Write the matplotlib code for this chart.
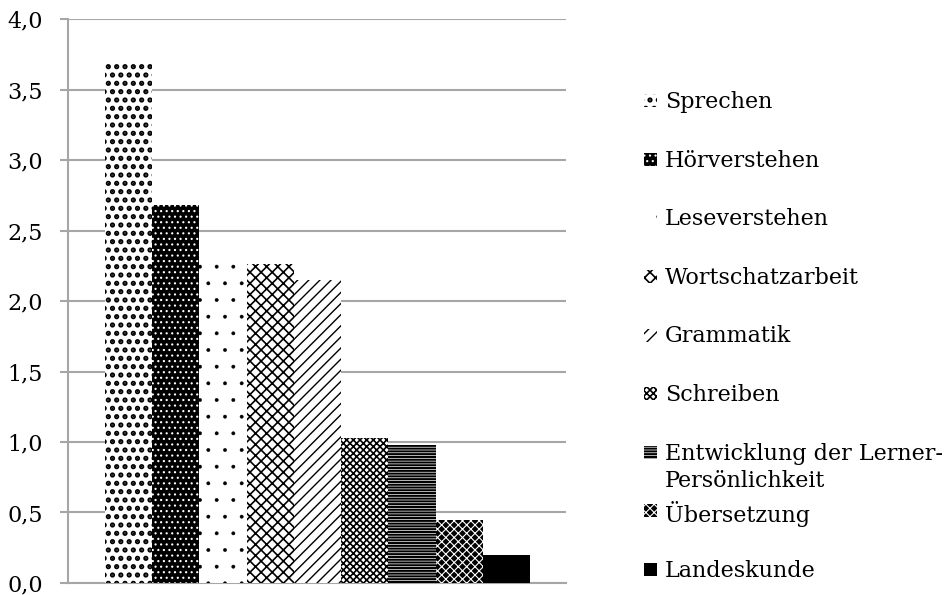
import matplotlib
matplotlib.use('Agg')
import matplotlib.pyplot as plt
from matplotlib.patches import Rectangle
from matplotlib.ticker import FuncFormatter
import numpy as np

# Daten
categories = ['Sprechen', 'Hörverstehen', 'Leseverstehen', 'Wortschatzarbeit',
              'Grammatik', 'Schreiben', 'Entwicklung der Lerner-\nPersönlichkeit',
              'Übersetzung', 'Landeskunde']
values = [3.70, 2.68, 2.26, 2.26, 2.15, 1.03, 0.98, 0.45, 0.20]
y_ticks = [0.0, 0.5, 1.0, 1.5, 2.0, 2.5, 3.0, 3.5, 4.0]

# Muster: (face, hatch, hatch color, hatch linewidth)
styles = [
    ('white', '..', 'black', 2.5),
    ('black', '...', 'white', 0.8),
    ('white', '.', 'black', 0.3),
    ('white', 'xxx', 'black', 1.2),
    ('white', '///', 'black', 1.0),
    ('white', 'xxxxx', 'black', 1.2),
    ('white', '------', 'black', 1.5),
    ('black', 'xxxx', 'white', 0.8),
    ('black', '', 'black', 1.0),
]

plt.rcParams['font.family'] = ['DejaVu Serif']

fig = plt.figure(figsize=(9.44, 5.95), dpi=100)
ax = fig.add_axes([0.072, 0.0202, 0.5276, 0.9478])

x = np.arange(len(categories))
for xi, v, (fc, h, hc, hlw) in zip(x, values, styles):
    with plt.rc_context({'hatch.linewidth': hlw}):
        ax.bar(xi, v, width=1.0, color=fc, edgecolor=hc, hatch=h, linewidth=0, zorder=3)

ax.set_xlim(-1.284, 9.26)
ax.set_ylim(0, 4.0)
ax.set_yticks(y_ticks)
ax.yaxis.set_major_formatter(FuncFormatter(lambda v, p: f'{v:.1f}'.replace('.', ',')))
ax.set_xticks([])
ax.grid(axis='y', color='#a6a6a6', linewidth=1.5, zorder=0)
for s in ['top', 'right']:
    ax.spines[s].set_visible(False)
for s in ['left', 'bottom']:
    ax.spines[s].set_color('#a6a6a6')
    ax.spines[s].set_linewidth(1.5)
ax.tick_params(axis='y', colors='#a6a6a6', length=6, width=1.5, pad=12,
               labelsize=16, labelcolor='black')

# Legende
leg_y = np.linspace(103, 572, len(categories))
for yy, label, (fc, h, hc, hlw) in zip(leg_y, categories, styles):
    fy = 1 - yy / 595
    with plt.rc_context({'hatch.linewidth': hlw}):
        fig.patches.append(Rectangle((644 / 944, fy - 4 / 595), 13 / 944, 13 / 595,
                                     transform=fig.transFigure, facecolor=fc,
                                     edgecolor=hc, hatch=h, linewidth=0))
    fig.text(665 / 944, fy + 12 / 595, label, fontsize=16, va='top', ha='left',
             linespacing=1.3)

plt.savefig('out.png', dpi=100)
